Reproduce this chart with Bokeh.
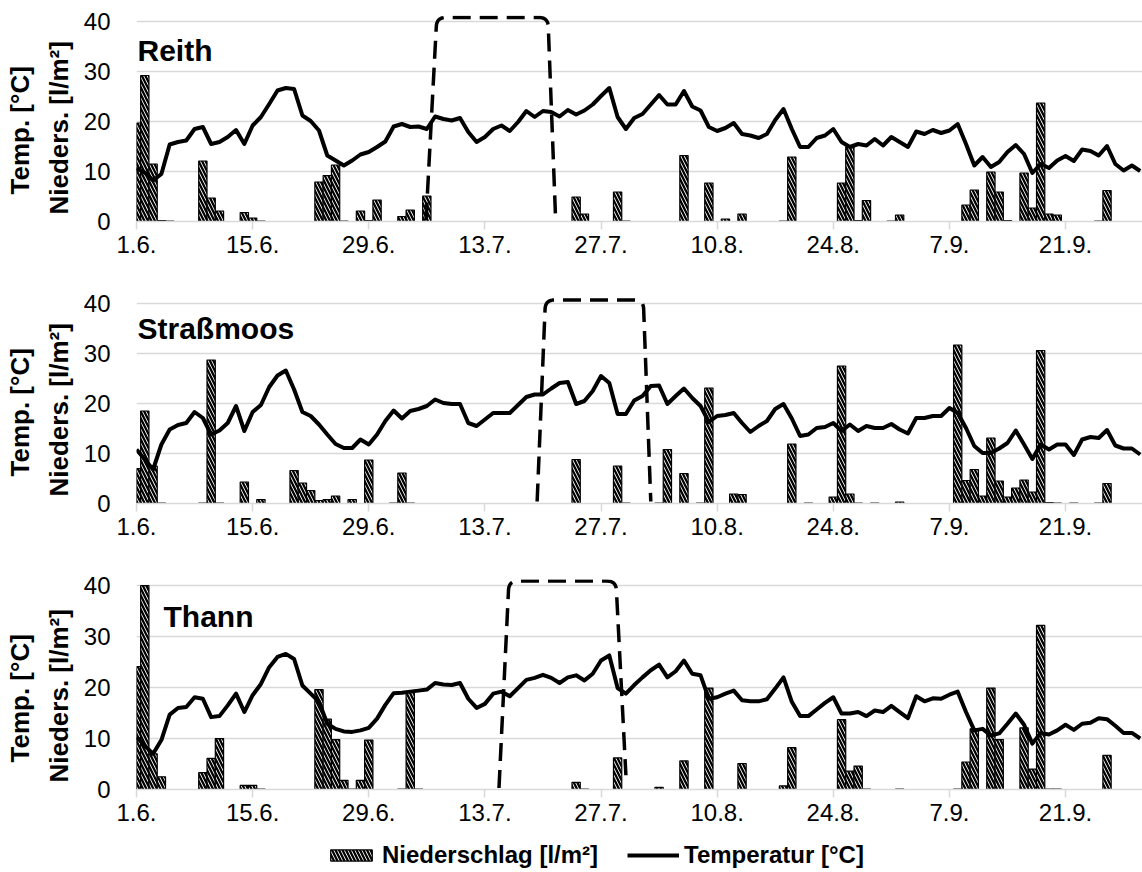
import numpy as np
from bokeh.plotting import figure
from bokeh.layouts import column
from bokeh.models import Range1d, FixedTicker, Label, Legend, LegendItem, Title
from bokeh.core.properties import value
from bokeh.embed import file_html
from bokeh.resources import INLINE

FONT = "Liberation Sans"

# ---------------- data ----------------
days = list(range(122))  # 0 = 1.6. ... 121 = 30.9.
tick_days = [0, 14, 28, 42, 56, 70, 84, 98, 112]
tick_labels = ["1.6.", "15.6.", "29.6.", "13.7.", "27.7.", "10.8.", "24.8.", "7.9.", "21.9."]
y_ticks = [0, 10, 20, 30, 40]
stations = ["Reith", "Straßmoos", "Thann"]
y_title_lines = ["Temp. [°C]", "Nieders. [l/m²]"]
legend_labels = ["Niederschlag [l/m²]", "Temperatur [°C]"]

temp_reith = [10.6, 9.8, 8.2, 9.5, 15.4, 15.9, 16.2, 18.5, 18.9, 15.5,
              15.9, 16.9, 18.3, 15.5, 19.2, 20.9, 23.5, 26.2, 26.7, 26.5,
              21.2, 20.1, 18.2, 13.2, 12.2, 11.2, 12.2, 13.4, 13.9, 14.9,
              16.0, 19.0, 19.5, 18.9, 19.0, 18.5, 21.0, 20.5, 20.2, 20.7,
              17.9, 15.9, 16.9, 18.5, 19.2, 18.1, 19.9, 22.1, 20.9, 22.1,
              21.9, 21.0, 22.3, 21.4, 22.2, 23.4, 25.1, 26.7, 20.9, 18.5,
              20.7, 21.5, 23.4, 25.3, 23.4, 23.4, 26.1, 23.0, 22.2, 18.9,
              18.1, 18.7, 19.7, 17.5, 17.2, 16.7, 17.5, 20.3, 22.5, 18.5,
              14.9, 14.9, 16.7, 17.2, 18.5, 15.9, 14.9, 15.5, 15.2, 16.5,
              15.2, 16.9, 15.9, 14.9, 18.0, 17.5, 18.3, 17.7, 18.2, 19.5,
              15.5, 11.2, 12.9, 10.9, 11.9, 13.9, 15.3, 13.5, 9.7, 11.5,
              10.7, 12.2, 13.1, 12.1, 14.4, 14.1, 13.2, 15.1, 11.5, 10.2,
              11.2, 10.1]

temp_strassmoos = [10.8, 8.8, 6.8, 11.8, 14.8, 15.7, 16.1, 18.3, 17.1, 13.8,
                   14.6, 16.1, 19.5, 14.5, 18.3, 19.7, 23.3, 25.6, 26.6, 22.8,
                   18.3, 17.5, 15.8, 13.8, 11.9, 11.1, 11.1, 12.8, 11.8, 13.8,
                   16.5, 18.6, 17.0, 18.5, 18.9, 19.5, 20.8, 20.1, 19.9, 19.9,
                   16.1, 15.5, 16.8, 18.1, 18.1, 18.1, 19.7, 21.3, 21.8, 21.8,
                   23.0, 24.1, 24.3, 19.9, 20.5, 22.5, 25.5, 24.1, 17.9, 17.9,
                   20.6, 21.5, 23.5, 23.6, 19.9, 21.5, 23.0, 21.1, 19.5, 16.3,
                   17.5, 17.7, 18.1, 16.1, 14.3, 15.5, 16.5, 18.9, 19.9, 17.0,
                   13.5, 13.8, 15.1, 15.3, 16.1, 14.5, 15.8, 14.5, 15.5, 15.1,
                   15.1, 15.9, 14.8, 14.0, 17.1, 17.1, 17.5, 17.5, 19.1, 18.1,
                   15.1, 11.5, 10.1, 10.1, 11.0, 12.1, 14.6, 11.8, 8.9, 11.8,
                   10.8, 11.8, 11.8, 9.7, 12.8, 13.3, 13.1, 14.7, 11.6, 11.0,
                   11.0, 9.8]

temp_thann = [10.3, 8.6, 7.0, 9.7, 14.7, 16.0, 16.2, 18.1, 17.8, 14.2,
              14.4, 16.5, 18.8, 15.2, 18.5, 20.7, 24.0, 26.0, 26.6, 25.6,
              20.4, 18.8, 17.2, 12.9, 11.9, 11.4, 11.3, 11.6, 12.1, 13.9,
              16.6, 18.9, 19.0, 19.2, 19.4, 19.6, 20.9, 20.6, 20.5, 20.9,
              17.8, 16.0, 16.8, 18.8, 19.2, 18.3, 19.9, 21.5, 21.9, 22.5,
              21.9, 20.9, 22.0, 22.4, 21.4, 22.7, 25.3, 26.3, 19.9, 18.8,
              20.5, 22.0, 23.4, 24.5, 22.0, 23.2, 25.3, 22.7, 22.4, 17.8,
              18.1, 18.8, 19.4, 17.5, 17.3, 17.3, 17.7, 19.8, 22.0, 17.2,
              14.4, 14.4, 15.7, 17.0, 18.1, 14.9, 14.9, 15.2, 14.4, 15.5,
              15.2, 16.4, 15.2, 14.0, 18.3, 17.3, 17.9, 17.8, 18.6, 19.2,
              15.2, 11.6, 11.9, 10.6, 11.0, 12.9, 14.9, 12.7, 9.0, 11.1,
              10.8, 11.6, 12.7, 11.7, 12.9, 13.1, 14.0, 13.8, 12.5, 11.1,
              11.1, 10.0]

rain_days_reith = [0, 1, 2, 3, 4, 8, 9, 10, 13, 14, 15, 22, 23, 24, 25, 27, 28, 29,
                   32, 33, 35, 53, 54, 58, 59, 66, 69, 71, 73, 78, 79, 85, 86, 87,
                   88, 91, 92, 100, 101, 103, 104, 105, 107, 108, 109, 110, 111,
                   116, 117]
rain_reith = [19.7, 29.2, 11.5, 0.2, 0.1, 12.1, 4.7, 2.1, 1.8, 0.7, 0.1, 7.9, 9.2,
              11.3, 0.1, 2.1, 0.2, 4.3, 1.0, 2.3, 5.1, 4.9, 1.5, 5.9, 0.1, 13.2,
              7.7, 0.5, 1.5, 0.1, 12.9, 7.7, 14.9, 0.2, 4.2, 0.1, 1.3, 3.3, 6.3,
              9.9, 5.9, 0.2, 9.7, 2.7, 23.7, 1.5, 1.3, 0.1, 6.2]

rain_days_strassmoos = [0, 1, 2, 3, 8, 9, 10, 13, 15, 19, 20, 21, 22, 23, 24, 26,
                        28, 31, 32, 33, 53, 58, 59, 63, 64, 66, 68, 69, 72, 73, 79,
                        81, 84, 85, 86, 87, 89, 92, 99, 100, 101, 102, 103, 104,
                        105, 106, 107, 108, 109, 110, 111, 113, 116, 117]
rain_strassmoos = [7.0, 18.5, 7.5, 0.1, 0.1, 28.7, 0.1, 4.3, 0.8, 6.6, 4.1, 2.6,
                   0.6, 0.8, 1.5, 0.8, 8.7, 0.1, 6.1, 0.1, 8.8, 7.5, 0.1, 0.1,
                   10.8, 6.0, 0.1, 23.1, 1.9, 1.8, 11.9, 0.1, 1.3, 27.5, 1.9,
                   0.1, 0.1, 0.3, 31.7, 4.6, 6.8, 1.5, 13.1, 4.5, 1.3, 3.1, 4.7,
                   2.3, 30.6, 0.2, 0.1, 0.1, 0.1, 4.0]

rain_days_thann = [0, 1, 2, 3, 8, 9, 10, 13, 14, 15, 22, 23, 24, 25, 26, 27, 28,
                   32, 33, 34, 53, 54, 58, 63, 66, 69, 73, 78, 79, 85, 86, 87, 88,
                   92, 99, 100, 101, 103, 104, 107, 108, 109, 110, 111, 117]
rain_thann = [24.1, 42.0, 7.0, 2.5, 3.3, 6.1, 10.0, 0.8, 0.8, 0.1, 19.6, 13.8,
              9.8, 1.8, 0.1, 1.8, 9.7, 0.1, 19.1, 0.1, 1.4, 0.1, 6.2, 0.4, 5.6,
              19.9, 5.1, 0.7, 8.2, 13.7, 3.6, 4.6, 0.1, 0.1, 0.1, 5.4, 11.9,
              19.9, 9.8, 12.1, 4.0, 32.2, 0.1, 0.1, 6.7]

# dashed marker (corner points: day, value)
box_x_reith = [34.9, 36.2, 49.6, 50.5]
box_y_reith = [0.2, 40.8, 40.8, 1.6]
box_x_strassmoos = [48.3, 49.3, 61.1, 62.0]
box_y_strassmoos = [0.4, 40.7, 40.7, 0.4]
box_x_thann = [43.7, 44.9, 57.8, 59.0]
box_y_thann = [0.3, 40.9, 40.9, 2.8]

# ---------------- layout constants ----------------
AXIS_MAX = 40
Y_END = 41.2
PX_PER_DAY = 8.295
FRAME_LEFT = 136
FIG_W = 1142
X_END = (FIG_W - FRAME_LEFT) / PX_PER_DAY
GRID = "#d9d9d9"

BAR_STYLE = dict(fill_color="white", line_color="black", line_width=1.2,
                 hatch_pattern="\\", hatch_color="black", hatch_weight=2.3, hatch_scale=7)
TEMP_STYLE = dict(line_color="black", line_width=4, line_join="round")


def rounded(xs, ys, sx, sy, r=9.0, n=10):
    P = np.column_stack([np.asarray(xs, float) * sx, np.asarray(ys, float) * sy])
    out = [P[0]]
    for i in range(1, len(P) - 1):
        a = P[i - 1] - P[i]
        a = a / np.hypot(*a)
        b = P[i + 1] - P[i]
        b = b / np.hypot(*b)
        A = P[i] + a * r
        B = P[i] + b * r
        for t in np.linspace(0, 1, n):
            out.append((1 - t) ** 2 * A + 2 * (1 - t) * t * P[i] + t ** 2 * B)
    out.append(P[-1])
    out = np.array(out)
    return list(out[:, 0] / sx), list(out[:, 1] / sy)


def make_panel(name, temp, rdays, rain, bx, by, frame_h, b_top, b_bottom, title_xoff, title_y):
    p = figure(width=FIG_W, height=b_top + frame_h + b_bottom,
               x_range=Range1d(0, X_END), y_range=Range1d(0, Y_END),
               output_backend="svg", toolbar_location=None,
               min_border_left=FRAME_LEFT, min_border_right=0,
               min_border_top=b_top, min_border_bottom=b_bottom)
    p.outline_line_color = None
    p.background_fill_color = "white"
    p.xgrid.grid_line_color = None
    p.ygrid.ticker = FixedTicker(ticks=y_ticks)
    p.ygrid.grid_line_color = GRID
    p.ygrid.grid_line_width = 1.5

    xa = p.xaxis[0]
    xa.ticker = FixedTicker(ticks=tick_days)
    xa.major_label_overrides = {d: l for d, l in zip(tick_days, tick_labels)}
    xa.axis_line_color = GRID
    xa.axis_line_width = 1.5
    xa.major_tick_line_color = GRID
    xa.major_tick_line_width = 1.5
    xa.major_tick_out = 8
    xa.major_tick_in = 0
    xa.minor_tick_line_color = None
    xa.major_label_text_font = FONT
    xa.major_label_text_font_size = "24px"
    xa.major_label_text_color = "black"
    xa.major_label_standoff = 6

    ya = p.yaxis[0]
    ya.ticker = FixedTicker(ticks=y_ticks)
    ya.axis_line_color = None
    ya.major_tick_line_color = None
    ya.minor_tick_line_color = None
    ya.major_tick_out = 0
    ya.major_tick_in = 0
    ya.major_label_text_font = FONT
    ya.major_label_text_font_size = "24px"
    ya.major_label_text_color = "black"
    ya.major_label_standoff = 26

    # two-line y title, each line centred on its own (offset from frame bottom)
    p.add_layout(Title(text=y_title_lines[1], align="left", offset=7,
                       standoff=14, text_font=FONT, text_font_size="26px",
                       text_font_style="bold", text_color="black"), "left")
    p.add_layout(Title(text=y_title_lines[0], align="left", offset=27,
                       standoff=0, text_font=FONT, text_font_size="26px",
                       text_font_style="bold", text_color="black"), "left")

    sy = frame_h / Y_END
    tops = list(np.minimum(np.asarray(rain, float), AXIS_MAX))
    bars = p.vbar(x=rdays, top=tops, bottom=0, width=1.0, **BAR_STYLE)
    line = p.line(days, temp, **TEMP_STYLE)
    dx, dy = rounded(bx, by, PX_PER_DAY, sy)
    p.line(dx, dy, line_color="black", line_width=3.5, line_dash="18 9")

    p.add_layout(Label(x=0, y=title_y, x_offset=title_xoff, text=name,
                       text_font=FONT, text_font_size="30px", text_font_style="bold",
                       text_color="black", text_baseline="alphabetic", text_align="left"))
    return p


p1 = make_panel(stations[0], temp_reith, rain_days_reith, rain_reith,
                box_x_reith, box_y_reith, 206, 15, 68, 1, 34.2)
p2 = make_panel(stations[1], temp_strassmoos, rain_days_strassmoos, rain_strassmoos,
                box_x_strassmoos, box_y_strassmoos, 206, 8, 68, 1, 35.0)
p3 = make_panel(stations[2], temp_thann, rain_days_thann, rain_thann,
                box_x_thann, box_y_thann, 210, 8, 48, 27, 34.0)

# legend strip: series drawn out of view, only the legend shows
p4 = figure(width=FIG_W, height=35, x_range=Range1d(0, X_END), y_range=Range1d(100, 135),
            output_backend="svg", toolbar_location=None,
            x_axis_type=None, y_axis_type=None, min_border=0)
p4.outline_line_color = None
p4.xgrid.grid_line_color = None
p4.ygrid.grid_line_color = None
lb = p4.vbar(x=rain_days_thann, top=rain_thann, bottom=0, width=1.0, **BAR_STYLE)
ll = p4.line(x=days, y=temp_thann, **TEMP_STYLE)
legend = Legend(items=[LegendItem(label=value(legend_labels[0]), renderers=[lb]),
                       LegendItem(label=value(legend_labels[1]), renderers=[ll])],
                location=(189, 3), orientation="horizontal",
                padding=0, margin=0, spacing=29, glyph_width=52, glyph_height=14,
                label_standoff=5, label_height=24,
                label_text_font=FONT, label_text_font_size="24px",
                label_text_font_style="bold", label_text_color="black",
                border_line_color=None, background_fill_alpha=0)
p4.add_layout(legend)

layout = column(p1, p2, p3, p4, spacing=0)
open("out.html", "w").write(file_html(layout, INLINE))
